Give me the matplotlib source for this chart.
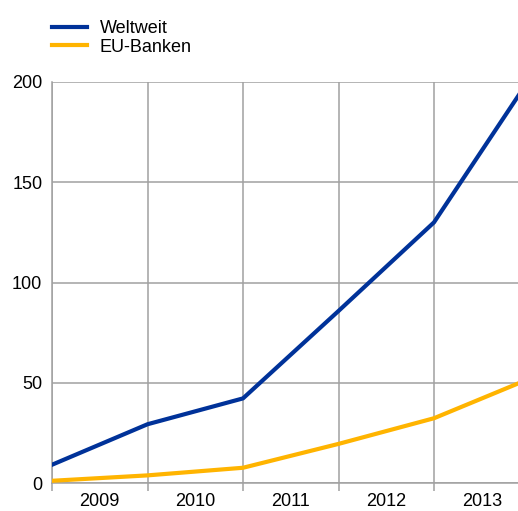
import matplotlib
matplotlib.use('Agg')
import matplotlib.pyplot as plt

plt.rcParams['font.family'] = ['Liberation Sans', 'DejaVu Sans']

# Datenpunkte an den Jahresgrenzen (Anfang 2009 ... Ende 2013)
x_pos = [0, 1, 2, 3, 4, 5]
weltweit = [9.1, 29.3, 42.2, 85.8, 130.0, 201.5]
eu_banken = [1.1, 3.8, 7.6, 19.5, 32.3, 52.0]
years = ['2009', '2010', '2011', '2012', '2013']

blue = '#003299'
yellow = '#ffb400'
grid_c = '#a0a0a0'

W, H = 518, 511
fig = plt.figure(figsize=(W / 100, H / 100), dpi=100)
# Plotbereich läuft rechts über den Bildrand hinaus (wie im Original abgeschnitten)
ax = fig.add_axes([52 / W, (H - 483) / H, (529.5 - 52) / W, (483 - 82) / H])

ax.plot(x_pos, weltweit, color=blue, lw=3, label='Weltweit', zorder=3)
ax.plot(x_pos, eu_banken, color=yellow, lw=3, label='EU-Banken', zorder=3)

ax.set_xlim(0, 5)
ax.set_ylim(0, 200)

ax.set_yticks([0, 50, 100, 150, 200])
ax.tick_params(axis='y', length=0, labelsize=13, pad=7)

ax.set_xticks(x_pos)
ax.set_xticklabels([])
ax.set_xticks([i + 0.5 for i in range(len(years))], minor=True)
ax.set_xticklabels(years, minor=True)
ax.tick_params(axis='x', which='major', length=5.5, width=1.1, color=grid_c)
ax.tick_params(axis='x', which='minor', length=0, labelsize=13, pad=7)

ax.grid(True, which='major', color=grid_c, lw=1.1)
ax.set_axisbelow(True)
for s in ['top', 'right']:
    ax.spines[s].set_visible(False)
for s in ['left', 'bottom']:
    ax.spines[s].set_color(grid_c)
    ax.spines[s].set_linewidth(1.1)

fig.legend(loc='upper left', bbox_to_anchor=(52 / W, 1 - 20 / H), frameon=False,
           fontsize=13, handlelength=1.95, handletextpad=0.7, labelspacing=0.1,
           borderaxespad=0, borderpad=0)

fig.savefig('out.png', dpi=100)
